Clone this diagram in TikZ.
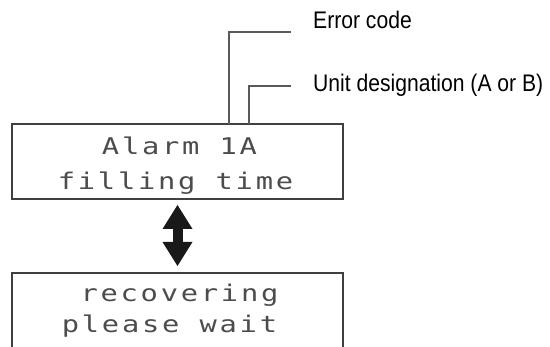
\documentclass[tikz,border=0pt]{standalone}
\usepackage{fontspec}
\setmainfont{Liberation Sans}
\newfontfamily\lcdfont[FakeStretch=1.25,LetterSpace=12]{DejaVu Sans Mono}
\newfontfamily\notefont[FakeStretch=0.88]{Liberation Sans}
\usetikzlibrary{positioning,calc,arrows.meta}

\begin{document}
\begin{tikzpicture}[
  x=1pt, y=-1pt,
  lcd/.style={rectangle, draw=black!75, line width=2pt,
    minimum width=331pt, minimum height=75pt, inner sep=0pt},
  lcdtxt/.style={font=\lcdfont\fontsize{23}{23}\selectfont, text=black!70,
    inner sep=0pt, anchor=base},
  note/.style={font=\notefont\fontsize{24}{24}\selectfont, inner sep=0pt,
    anchor=base west},
  lead/.style={draw=black!65, line width=1.5pt},
  swap/.style={{Triangle[width=30pt,length=24pt,line width=0pt]}-{Triangle[width=30pt,length=24pt,line width=0pt]},
    line width=10pt, draw=black!90}
]
\useasboundingbox (0,0) rectangle (550,347);
% LCD screens
\node[lcd] (lcdtop) at (177.5,161.5) {};
\node[lcd, below=72pt of lcdtop] (lcdbot) {};
% display texts
\node[lcdtxt] (alarm)  at ($(lcdtop.north)+(2,32)$) {Alarm 1A};
\node[lcdtxt] (fill)   at ($(lcdtop.north)+(-2,67)$) {filling time};
\node[lcdtxt] (recov)  at ($(lcdbot.north)+(2,30)$) {recovering};
\node[lcdtxt] (please) at ($(lcdbot.north)+(-8,61)$) {please wait};
% toggling between the two screens
\draw[swap] ([yshift=-5pt]lcdtop.south) -- ([yshift=6pt]lcdbot.north);
% callouts
\node[note] (errlab)  at (313,29) {Error code};
\node[note] (unitlab) at (313,92) {Unit designation (A or B)};
\coordinate (errpt)  at (229,124);
\coordinate (unitpt) at (249,124);
\draw[lead] (errpt)  |- ([xshift=-22pt,yshift=-3pt]errlab.base west);
\draw[lead] (unitpt) |- ([xshift=-22pt,yshift=6pt]unitlab.base west);
\end{tikzpicture}
\end{document}
